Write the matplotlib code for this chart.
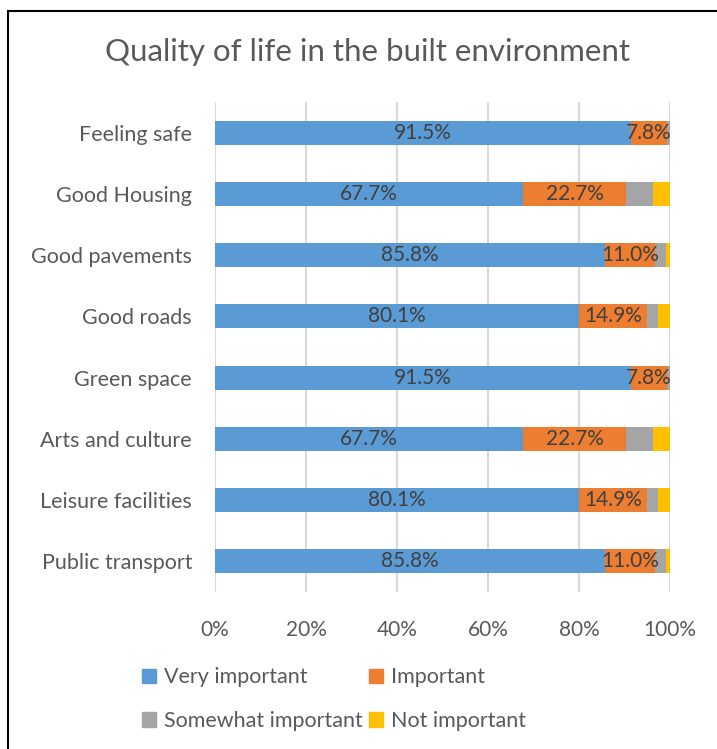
import matplotlib.pyplot as plt
from matplotlib.patches import Patch, Rectangle

categories = ['Feeling safe', 'Good Housing', 'Good pavements', 'Good roads',
              'Green space', 'Arts and culture', 'Leisure facilities', 'Public transport']
very_important = [91.5, 67.7, 85.8, 80.1, 91.5, 67.7, 80.1, 85.8]
important = [7.8, 22.7, 11.0, 14.9, 7.8, 22.7, 14.9, 11.0]
somewhat_important = [0.7, 5.9, 2.4, 2.4, 0.7, 5.9, 2.4, 2.4]
not_important = [0.0, 3.7, 0.8, 2.6, 0.0, 3.7, 2.6, 0.8]
x_ticks = [0, 20, 40, 60, 80, 100]

series = [very_important, important, somewhat_important, not_important]
labels = ['Very important', 'Important', 'Somewhat important', 'Not important']
colors = ['#5b9bd5', '#ed7d31', '#a5a5a5', '#ffc000']

plt.rcParams['font.family'] = ['Lato', 'DejaVu Sans']

fig = plt.figure(figsize=(7.17, 7.49), dpi=100)
ax = fig.add_axes([0.2999, 0.2096, 0.6345, 0.6542])

y = list(range(len(categories)))
left = [0.0] * len(categories)
for i, vals in enumerate(series):
    ax.barh(y, vals, left=left, height=0.39, color=colors[i], label=labels[i], zorder=3)
    if i < 2:
        for j, v in enumerate(vals):
            ax.text(left[j] + v / 2, y[j], f'{v:.1f}%', ha='center', va='center',
                    fontsize=15, color='#404040', zorder=4)
    left = [l + v for l, v in zip(left, vals)]

ax.set_xlim(0, 100)
ax.set_ylim(len(categories) - 0.5, -0.5)
ax.set_yticks(y)
ax.set_yticklabels(categories, fontsize=15.5, color='#595959')
ax.set_xticks(x_ticks)
ax.set_xticklabels([f'{t}%' for t in x_ticks], fontsize=15, color='#595959')
ax.tick_params(axis='y', length=0, pad=16.5)
ax.tick_params(axis='x', length=0, pad=20)
ax.grid(axis='x', color='#d9d9d9', linewidth=1.5, zorder=0)
for spine in ax.spines.values():
    spine.set_visible(False)

fig.text(0.513, 0.931, 'Quality of life in the built environment', ha='center', va='center',
         fontsize=22.5, color='#595959')

# legend: order so that rows read Very/Important, Somewhat/Not
handles = [Patch(color=c) for c in colors]
order = [0, 2, 1, 3]
fig.legend([handles[k] for k in order], [labels[k] for k in order],
           loc='center', bbox_to_anchor=(0.466, 0.0664), ncol=2, frameon=False,
           fontsize=15.5, labelcolor='#595959', handlelength=0.65, handleheight=0.65,
           handletextpad=0.35, columnspacing=0.3, labelspacing=1.1)

# chart border (only top and left edges fall inside the image)
fig.patches.append(Rectangle((8 / 717, -0.05), 1.2, 1 - 11 / 749 + 0.05,
                             transform=fig.transFigure, fill=False,
                             edgecolor='black', linewidth=1.5))

fig.savefig('out.png', dpi=100)
